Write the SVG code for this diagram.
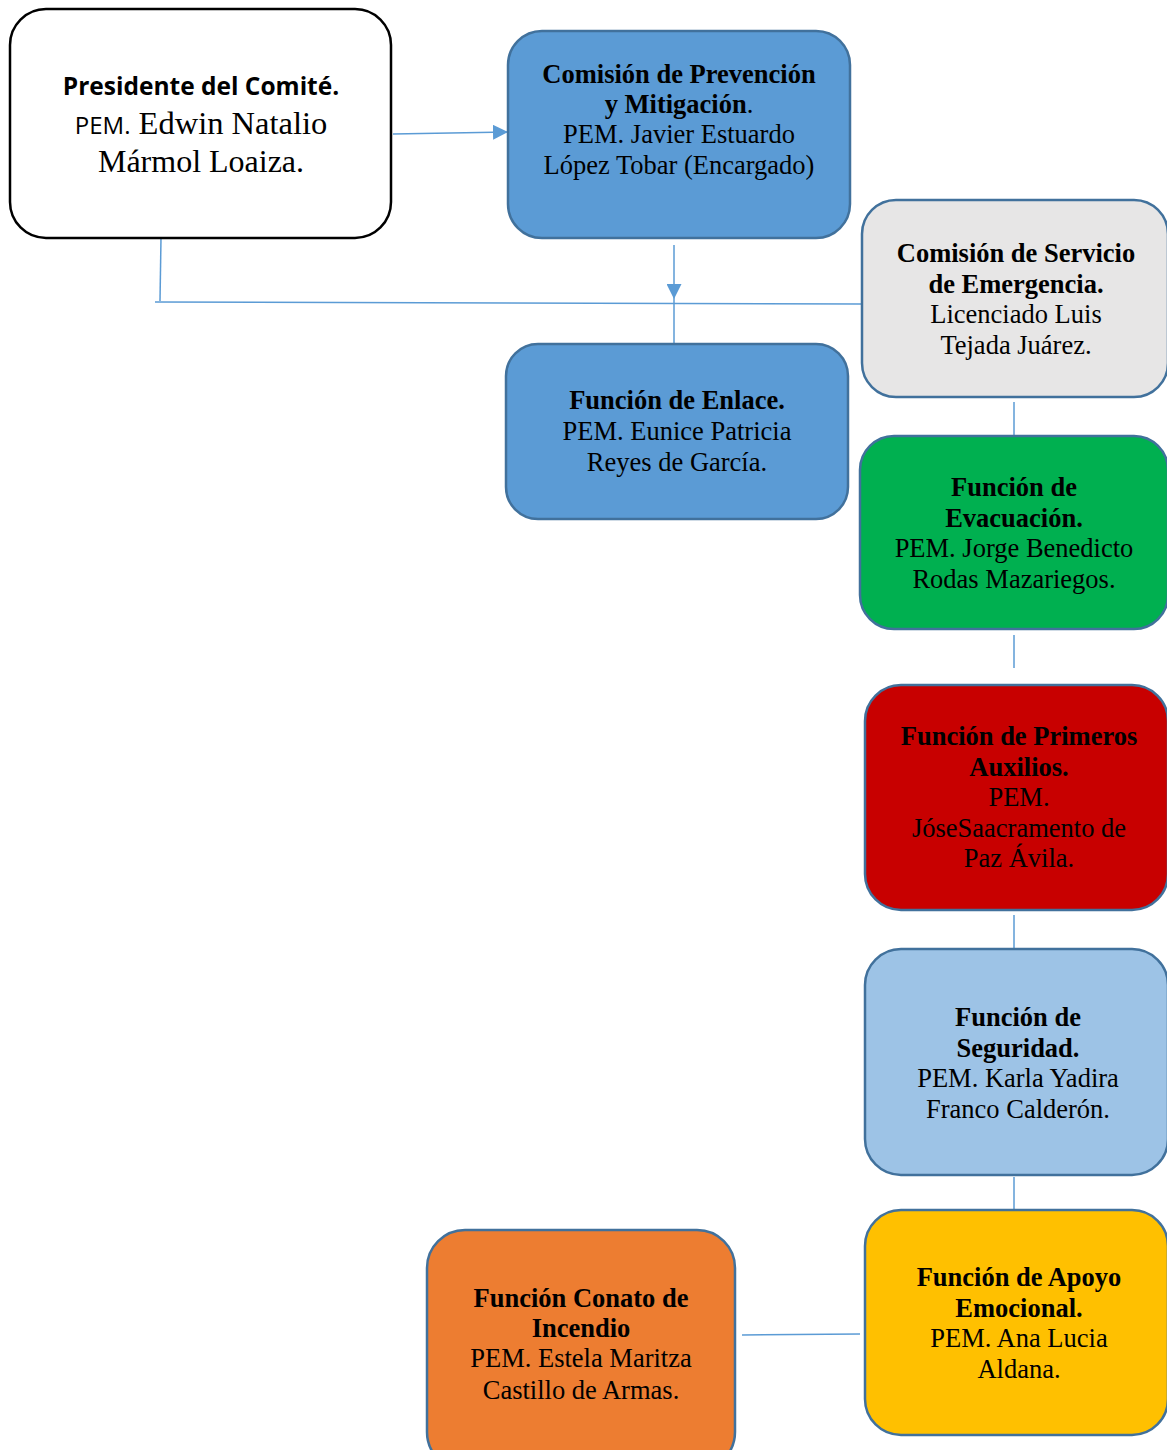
<svg xmlns="http://www.w3.org/2000/svg" width="1167" height="1450" viewBox="0 0 1167 1450">
<defs>
<style>
.n{stroke:#41719C;stroke-width:2.5}
.t{font-family:"Liberation Serif","Times New Roman",serif;font-size:26.5px;fill:#000;text-anchor:middle}
.b{font-weight:bold}
.c{stroke:#5B9BD5;stroke-width:1.5;fill:none}
</style>
<marker id="ah" viewBox="0 0 10 10" refX="10" refY="5" markerWidth="15" markerHeight="15" markerUnits="userSpaceOnUse" orient="auto">
<path d="M0,0 L10,5 L0,10 z" fill="#5B9BD5"/>
</marker>
</defs>
<rect width="1167" height="1450" fill="#fff"/>
<g id="connectors">
<line class="c" x1="393" y1="134" x2="508" y2="132" marker-end="url(#ah)"/>
<line class="c" x1="674" y1="245" x2="674" y2="299" marker-end="url(#ah)"/>
<line class="c" x1="674" y1="299" x2="674" y2="344"/>
<line class="c" x1="161" y1="238" x2="160" y2="301"/>
<line class="c" x1="155" y1="302" x2="862" y2="304"/>
<line class="c" x1="1014" y1="402" x2="1014" y2="435"/>
<line class="c" x1="1014" y1="635" x2="1014" y2="668"/>
<line class="c" x1="1014" y1="915" x2="1014" y2="948"/>
<line class="c" x1="1014" y1="1177" x2="1014" y2="1209"/>
<line class="c" x1="742" y1="1335" x2="860" y2="1334"/>
</g>
<g id="presidente">
<rect x="10" y="9" width="381" height="229" rx="36" fill="#fff" stroke="#000" stroke-width="2.5"/>
<text x="201" y="95" text-anchor="middle" font-family="'Open Sans','Liberation Sans',sans-serif" font-weight="bold" font-size="24.5px">Presidente del Comité.</text>
<text x="201" y="134" text-anchor="middle"><tspan font-family="'Open Sans','Liberation Sans',sans-serif" font-size="24px">PEM.</tspan><tspan font-family="'Liberation Serif',serif" font-size="32.5px"> Edwin Natalio</tspan></text>
<text x="201" y="172" text-anchor="middle" font-family="'Liberation Serif',serif" font-size="32px">Mármol Loaiza.</text>
</g>
<g id="prevencion">
<rect class="n" x="508" y="31" width="342" height="207" rx="34" fill="#5B9BD5"/>
<text class="t b" x="679" y="83">Comisión de Prevención</text>
<text class="t" x="679" y="113"><tspan class="b">y Mitigación</tspan>.</text>
<text class="t" x="679" y="143">PEM. Javier Estuardo</text>
<text class="t" x="679" y="174">López Tobar (Encargado)</text>
</g>
<g id="servicio">
<rect class="n" x="862" y="200" width="306" height="197" rx="34" fill="#E7E6E6"/>
<text class="t b" x="1016" y="262">Comisión de Servicio</text>
<text class="t b" x="1016" y="293">de Emergencia.</text>
<text class="t" x="1016" y="323">Licenciado Luis</text>
<text class="t" x="1016" y="354">Tejada Juárez.</text>
</g>
<g id="enlace">
<rect class="n" x="506" y="344" width="342" height="175" rx="32" fill="#5B9BD5"/>
<text class="t b" x="677" y="409">Función de Enlace.</text>
<text class="t" x="677" y="440">PEM. Eunice Patricia</text>
<text class="t" x="677" y="471">Reyes de García.</text>
</g>
<g id="evacuacion">
<rect class="n" x="860" y="436" width="308" height="193" rx="34" fill="#00B050"/>
<text class="t b" x="1014" y="496">Función de</text>
<text class="t b" x="1014" y="527">Evacuación.</text>
<text class="t" x="1014" y="557">PEM. Jorge Benedicto</text>
<text class="t" x="1014" y="588">Rodas Mazariegos.</text>
</g>
<g id="primeros">
<rect class="n" x="865" y="685" width="303" height="225" rx="36" fill="#C80000"/>
<text class="t b" x="1019" y="745">Función de Primeros</text>
<text class="t b" x="1019" y="776">Auxilios.</text>
<text class="t" x="1019" y="806">PEM.</text>
<text class="t" x="1019" y="837">JóseSaacramento de</text>
<text class="t" x="1019" y="867">Paz Ávila.</text>
</g>
<g id="seguridad">
<rect class="n" x="865" y="949" width="303" height="226" rx="36" fill="#9DC3E6"/>
<text class="t b" x="1018" y="1026">Función de</text>
<text class="t b" x="1018" y="1057">Seguridad.</text>
<text class="t" x="1018" y="1087">PEM. Karla Yadira</text>
<text class="t" x="1018" y="1118">Franco Calderón.</text>
</g>
<g id="apoyo">
<rect class="n" x="865" y="1210" width="303" height="225" rx="36" fill="#FFC000"/>
<text class="t b" x="1019" y="1286">Función de Apoyo</text>
<text class="t b" x="1019" y="1317">Emocional.</text>
<text class="t" x="1019" y="1347">PEM. Ana Lucia</text>
<text class="t" x="1019" y="1378">Aldana.</text>
</g>
<g id="conato">
<rect class="n" x="427" y="1230" width="308" height="240" rx="38" fill="#ED7D31"/>
<text class="t b" x="581" y="1307">Función Conato de</text>
<text class="t b" x="581" y="1337">Incendio</text>
<text class="t" x="581" y="1367">PEM. Estela Maritza</text>
<text class="t" x="581" y="1399">Castillo de Armas.</text>
</g>
</svg>
